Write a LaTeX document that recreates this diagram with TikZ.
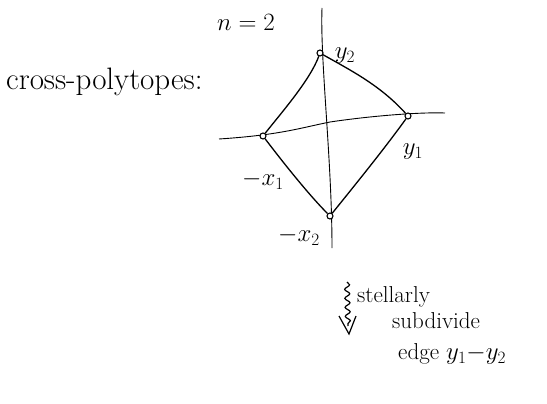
\documentclass[tikz,border=0pt]{standalone}
\usetikzlibrary{decorations.pathmorphing}
\begin{document}
\begin{tikzpicture}[x=1pt,y=-1pt,
  axis/.style={line width=0.9pt},
  edge/.style={line width=1.3pt},
  vert/.style={circle,draw,line width=1.1pt,inner sep=0pt,minimum size=6pt,fill=white},
  lbl/.style={font=\fontsize{24}{28}\selectfont},
  txt/.style={font=\fontsize{23}{26}\selectfont,anchor=west,inner sep=0pt}]
\useasboundingbox (0,0) rectangle (547,404);
% axes
\coordinate (vt) at (322,8);
\coordinate (vb) at (332,248);
\coordinate (hl) at (219,139);
\coordinate (hr) at (445,113);
\draw[axis] (vt) .. controls (320,60) and (332,160) .. (vb);
\draw[axis] (hl) .. controls (280,135) and (300,128) .. (330,122) .. controls (370,116) and (420,112) .. (hr);
% vertices
\node[vert] (y2) at (320,53) {};
\node[vert] (y1) at (408,116) {};
\node[vert] (x1) at (263,136) {};
\node[vert] (x2) at (330,216) {};
% edges
\draw[edge] (y2) .. controls (350,70) and (380,85) .. (y1);
\draw[edge] (y1) .. controls (385,148) and (355,185) .. (x2);
\draw[edge] (x2) .. controls (310,196) and (285,165) .. (x1);
\draw[edge] (x1) .. controls (282,112) and (310,80) .. (y2);
% labels
\node[lbl] (ly2) at (345,56) {$y_2$};
\node[lbl] (ly1) at (413,152) {$y_1$};
\node[lbl] (lx1) at (263,180) {$-x_1$};
\node[lbl] (lx2) at (299,236) {$-x_2$};
\node[lbl] (n2) at (246,22) {$n=2$};
\node[font=\fontsize{31}{35}\selectfont,anchor=west,inner sep=0pt] (cp) at (6,82) {cross-polytopes:};
% squiggle arrow
\coordinate (sa) at (347,282);
\coordinate (sb) at (348,326);
\draw[line width=1.2pt,decorate,decoration={snake,amplitude=2.5pt,segment length=9pt}] (sa) -- (sb);
\draw[line width=1.2pt] (339,316) -- (349,334) -- (356,316);
\node[txt] (t1) at (357,297) {stellarly};
\node[txt] (t2) at (392,321) {subdivide};
\node[txt] (t3) at (398,354) {edge $y_1{-}y_2$};
\end{tikzpicture}
\end{document}
